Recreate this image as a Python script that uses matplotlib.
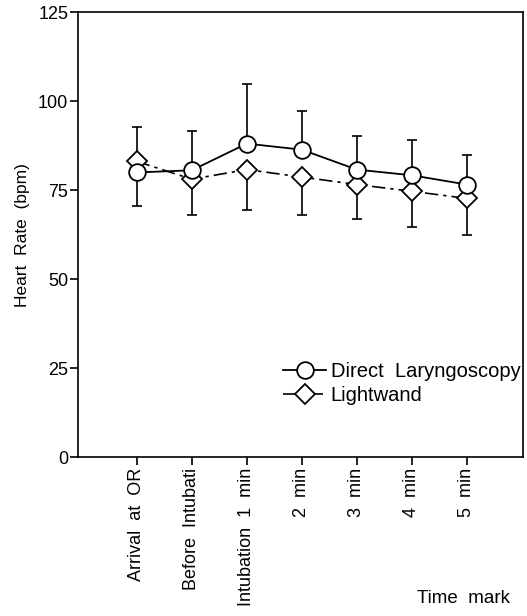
import matplotlib.pyplot as plt
import numpy as np

plt.rcParams['font.family'] = ['Liberation Sans', 'DejaVu Sans']

labels = ['Arrival  at  OR', 'Before  Intubati', 'Intubation  1  min', '2  min', '3  min', '4  min', '5  min']
direct = [80.0, 80.6, 88.1, 86.4, 80.8, 79.2, 76.6]
direct_up = [12.8, 11.0, 16.7, 10.9, 9.5, 9.8, 8.4]
light = [83.1, 78.1, 80.8, 78.7, 76.6, 74.7, 72.7]
light_down = [12.6, 10.1, 11.4, 10.7, 9.6, 10.0, 10.3]

x = np.arange(len(labels))

fig = plt.figure(figsize=(5.27, 6.16), dpi=100)
ax = fig.add_axes([0.148, 0.258, 0.844, 0.722])

# error bars: upper for direct, lower for lightwand
ax.errorbar(x, direct, yerr=[np.zeros(len(x)), direct_up], fmt='none',
            ecolor='black', elinewidth=1.2, capsize=3.6, capthick=1.2, zorder=1)
ax.errorbar(x, light, yerr=[light_down, np.zeros(len(x))], fmt='none',
            ecolor='black', elinewidth=1.2, capsize=3.6, capthick=1.2, zorder=1)

ax.plot(x, direct, color='black', linewidth=1.3, marker='o', markersize=12,
        markerfacecolor='white', markeredgecolor='black', markeredgewidth=1.3,
        label='Direct  Laryngoscopy', zorder=3)
ax.plot(x, light, color='black', linewidth=1.2, linestyle=(0, (8, 3, 2, 3)),
        marker='D', markersize=10.5, markerfacecolor='white', markeredgecolor='black',
        markeredgewidth=1.3, label='Lightwand', zorder=2)

ax.set_xlim(-1.07, 7.02)
ax.set_ylim(0, 125)
ax.set_yticks([0, 25, 50, 75, 100, 125])
ax.set_xticks(x)
ax.set_xticklabels(labels, rotation=90, fontsize=13)
ax.tick_params(axis='y', labelsize=13, direction='out', length=6, width=1.2, pad=1)
ax.tick_params(axis='x', direction='out', length=6, width=1.2, pad=2)
for s in ax.spines.values():
    s.set_linewidth(1.2)

ax.set_ylabel('Heart  Rate  (bpm)', fontsize=12.5, labelpad=6)

fig.text(0.968, 0.029, 'Time  mark', fontsize=13.5, ha='right', va='center')

ax.legend(loc='lower right', bbox_to_anchor=(1.022, 0.09), frameon=False, fontsize=14.5,
          handlelength=2.1, handletextpad=0.25, labelspacing=0.25, borderaxespad=0.2)

plt.savefig('out.png', dpi=100)
